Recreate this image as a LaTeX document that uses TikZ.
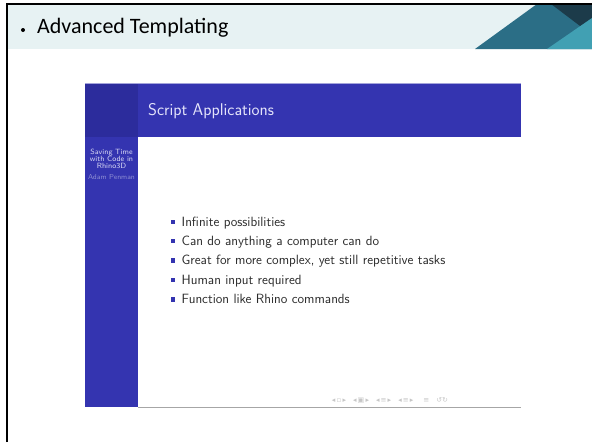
\documentclass[tikz,border=0pt]{standalone}
\usepackage{fontspec}
\setmainfont{Carlito}
\newfontfamily\symfont{DejaVu Sans}
\definecolor{bandc}{HTML}{E7F2F3}
\definecolor{tealA}{HTML}{2B6E86}
\definecolor{navyA}{HTML}{1C3B4A}
\definecolor{tealB}{HTML}{41A0B3}
\definecolor{bblue}{HTML}{3434B0}
\definecolor{bbluedark}{HTML}{2C2C9C}
\definecolor{titletxt}{HTML}{E4E4FA}
\definecolor{sidetxt}{HTML}{D8D8F4}
\definecolor{sidedim}{HTML}{8C8CD2}
\definecolor{bodytxt}{HTML}{2A2A2A}
\tikzset{
  bodyitem/.style={anchor=base west, inner sep=0pt, text=bodytxt, font=\sffamily\fontsize{13.4}{15}\selectfont},
  sqbullet/.style={fill=bblue, minimum size=4.5pt, inner sep=0pt},
}
\begin{document}
\begin{tikzpicture}[x=1pt,y=-1pt]
\useasboundingbox (0,0) rectangle (592,442);
\fill[white] (0,0) rectangle (592,442);
% header band
\fill[bandc] (8,4) rectangle (592,49);
\fill[tealA] (475,49) -- (537,4) -- (592,4) -- (592,49) -- cycle;
\fill[navyA] (551,4) -- (592,4) -- (592,35) -- cycle;
\fill[tealB] (547,49) -- (592,18) -- (592,49) -- cycle;
% frame lines
\draw[black, line width=2pt] (7,442) -- (7,4) -- (592,4);
% header text
\fill[black] (23,30) circle (2);
\node[anchor=base west, inner sep=0pt, font=\fontsize{22}{26}\selectfont] (ttl) at (37,33) {Advanced Templating};
% slide image
\fill[white] (85,83) rectangle (521,407);
\fill[bblue] (85,83) rectangle (521,137);
\fill[bbluedark] (85,83) rectangle (138,137);
\fill[bblue] (85,137) rectangle (138,407);
\draw[color=bblue!45, line width=1pt] (85,83.5) -- (521,83.5);
\draw[color=gray!70, line width=1pt] (138,407) -- (521,407);
\node[anchor=base west, inner sep=0pt, text=titletxt, font=\sffamily\fontsize{17}{19}\selectfont] (stitle) at (148,115) {Script Applications};
\node[align=center, inner sep=0pt, text=sidetxt, font=\sffamily\fontsize{7.6}{7.1}\selectfont] (side) at (111.5,159) {Saving Time\\with Code in\\Rhino3D};
\node[inner sep=0pt, text=sidedim, font=\sffamily\fontsize{7.2}{7}\selectfont] (auth) at (111.5,177) {Adam Penman};
% bullets
\foreach \y/\t [count=\i] in {222/Infinite possibilities, 241/Can do anything a computer can do, 260.5/{Great for more complex, yet still repetitive tasks}, 280/Human input required, 299.5/Function like Rhino commands}{
  \node[sqbullet] (b\i) at (173,\y) {};
  \node[bodyitem] (t\i) at (181.5,\y+4.2) {\t};
}
% navigation symbols
\node[inner sep=0pt, text=gray!45, font=\symfont\fontsize{7}{7}\selectfont] (nav) at (390,401) {◂\,▫\,▸\hspace{7pt}◂\,▣\,▸\hspace{7pt}◂\,≡\,▸\hspace{7pt}◂\,≡\,▸\hspace{10pt}≡\hspace{7pt}↺↻};
\end{tikzpicture}
\end{document}
